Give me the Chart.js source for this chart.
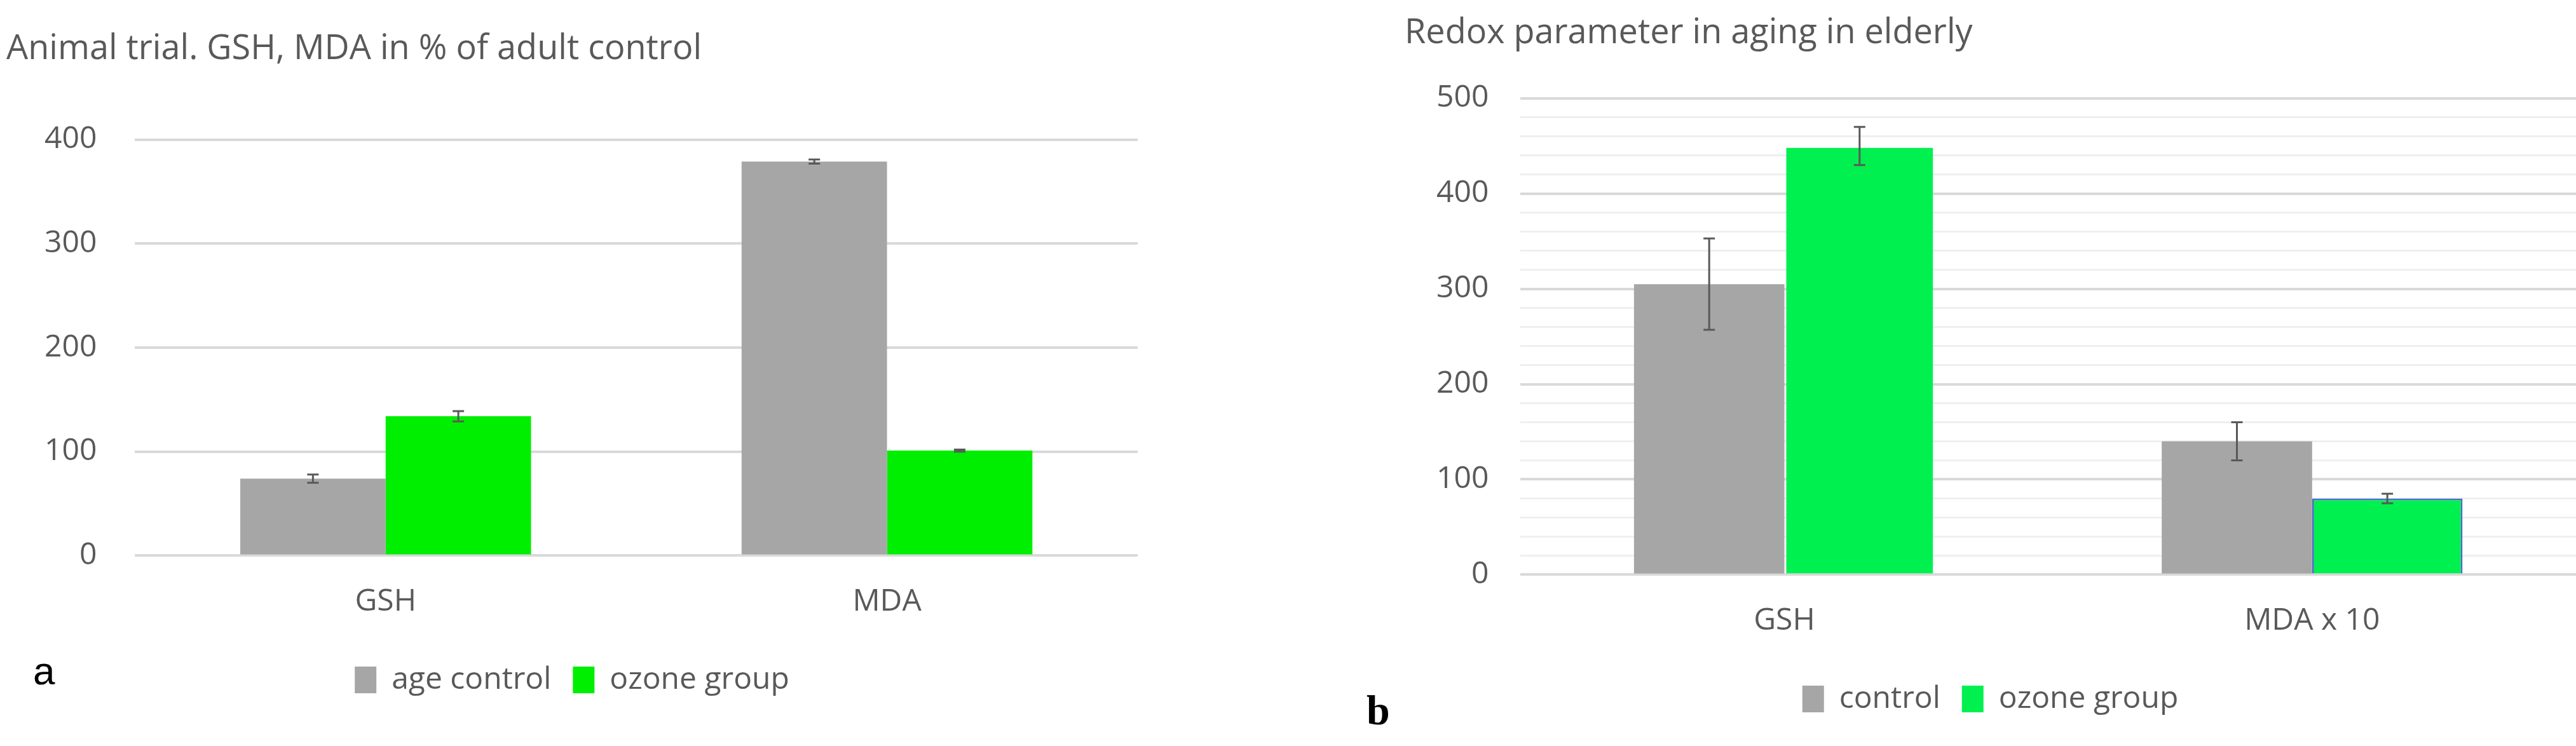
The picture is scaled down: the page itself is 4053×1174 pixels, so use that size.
<!DOCTYPE html>
<html><head><meta charset="utf-8">
<script src="https://cdn.jsdelivr.net/npm/chart.js"></script>
<style>
body{margin:0;background:#fff;width:4053px;height:1174px;position:relative;overflow:hidden;font-family:Lato,"Open Sans",sans-serif}
#wa{position:absolute;left:0;top:0;width:1790px;height:1174px}
#wb{position:absolute;left:2060px;top:0;width:1993px;height:1174px}
.lab{position:absolute;color:#000}
</style></head><body>
<div id="wa"><canvas id="ca"></canvas></div>
<div id="wb"><canvas id="cb"></canvas></div>
<div class="lab" style="left:52px;top:1020px;font-family:'Liberation Sans';font-size:62px">a</div>
<div class="lab" style="left:2150px;top:1080px;font-family:'Liberation Serif';font-weight:bold;font-size:66px">b</div>
<script>
const catsA=["GSH","MDA"];
const ageControl=[74,379], ageControlErr=[4,2];
const ozoneA=[134,101], ozoneAErr=[5,1];
const catsB=["GSH","MDA x 10"];
const controlB=[305,140], controlBErr=[48,20];
const ozoneB=[450,80], ozoneBErr=[20,5];

const errPlugin={id:'err',afterDatasetsDraw(ch){
  const c=ch.ctx, y=ch.scales.y;
  ch.data.datasets.forEach((ds,i)=>{
    const m=ch.getDatasetMeta(i);
    m.data.forEach((b,j)=>{
      const v=ds.data[j], e=ds.err[j];
      const y1=y.getPixelForValue(v+e), y2=y.getPixelForValue(v-e);
      c.save();c.strokeStyle='#595959';c.lineWidth=3;c.beginPath();
      c.moveTo(b.x,y1);c.lineTo(b.x,y2);
      c.moveTo(b.x-9,y1);c.lineTo(b.x+9,y1);
      c.moveTo(b.x-9,y2);c.lineTo(b.x+9,y2);
      c.stroke();c.restore();
    });
  });
}};
const font={family:"'Open Sans', Lato, sans-serif",size:48};
function opts(title,max,minor,padTop,titlePad,padLeft,padBottom,tickPad){
  return {responsive:true,maintainAspectRatio:false,animation:false,
   layout:{padding:{left:padLeft,right:0,top:0,bottom:padBottom}},
   plugins:{title:{display:true,text:title,align:'start',color:'#595959',font:{...font,size:54,weight:'normal'},padding:{top:titlePad,bottom:padTop}},
     legend:{position:'bottom',labels:{color:'#595959',font:font,boxWidth:34,boxHeight:42,padding:34}},tooltip:{enabled:false}},
   scales:{x:{grid:{display:false},border:{display:false},ticks:{color:'#595959',font:font,padding:36}},
     y:{min:0,max:max,border:{display:false},
       grid:{color:(ctx)=>ctx.tick.value%100===0?'#d9d9d9':'#efefef',lineWidth:(ctx)=>ctx.tick.value%100===0?4:3,drawTicks:false},
       ticks:{stepSize:minor,autoSkip:false,color:'#595959',font:font,padding:tickPad,callback:(v)=>v%100===0?v:''}}}};
}
new Chart(document.getElementById('ca'),{type:'bar',plugins:[errPlugin],
 data:{labels:catsA,datasets:[
  {label:'age control',data:ageControl,err:ageControlErr,backgroundColor:'#a6a6a6',categoryPercentage:0.58,barPercentage:1},
  {label:'ozone group',data:ozoneA,err:ozoneAErr,backgroundColor:'#00ee00',categoryPercentage:0.58,barPercentage:1}]},
 options:opts('Animal trial. GSH, MDA in % of adult control',400,100,110,45,10,70,60)});
new Chart(document.getElementById('cb'),{type:'bar',plugins:[errPlugin],
 data:{labels:catsB,datasets:[
  {label:'control',data:controlB,err:controlBErr,backgroundColor:'#a6a6a6',categoryPercentage:0.57,barPercentage:1},
  {label:'ozone group',data:ozoneB,err:ozoneBErr,backgroundColor:'#00f050',borderColor:['rgba(0,0,0,0)','#4472c4'],borderWidth:3,categoryPercentage:0.57,barPercentage:1}]},
 options:opts('Redox parameter in aging in elderly',500,20,70,20,150,40,50)});
</script></body></html>
